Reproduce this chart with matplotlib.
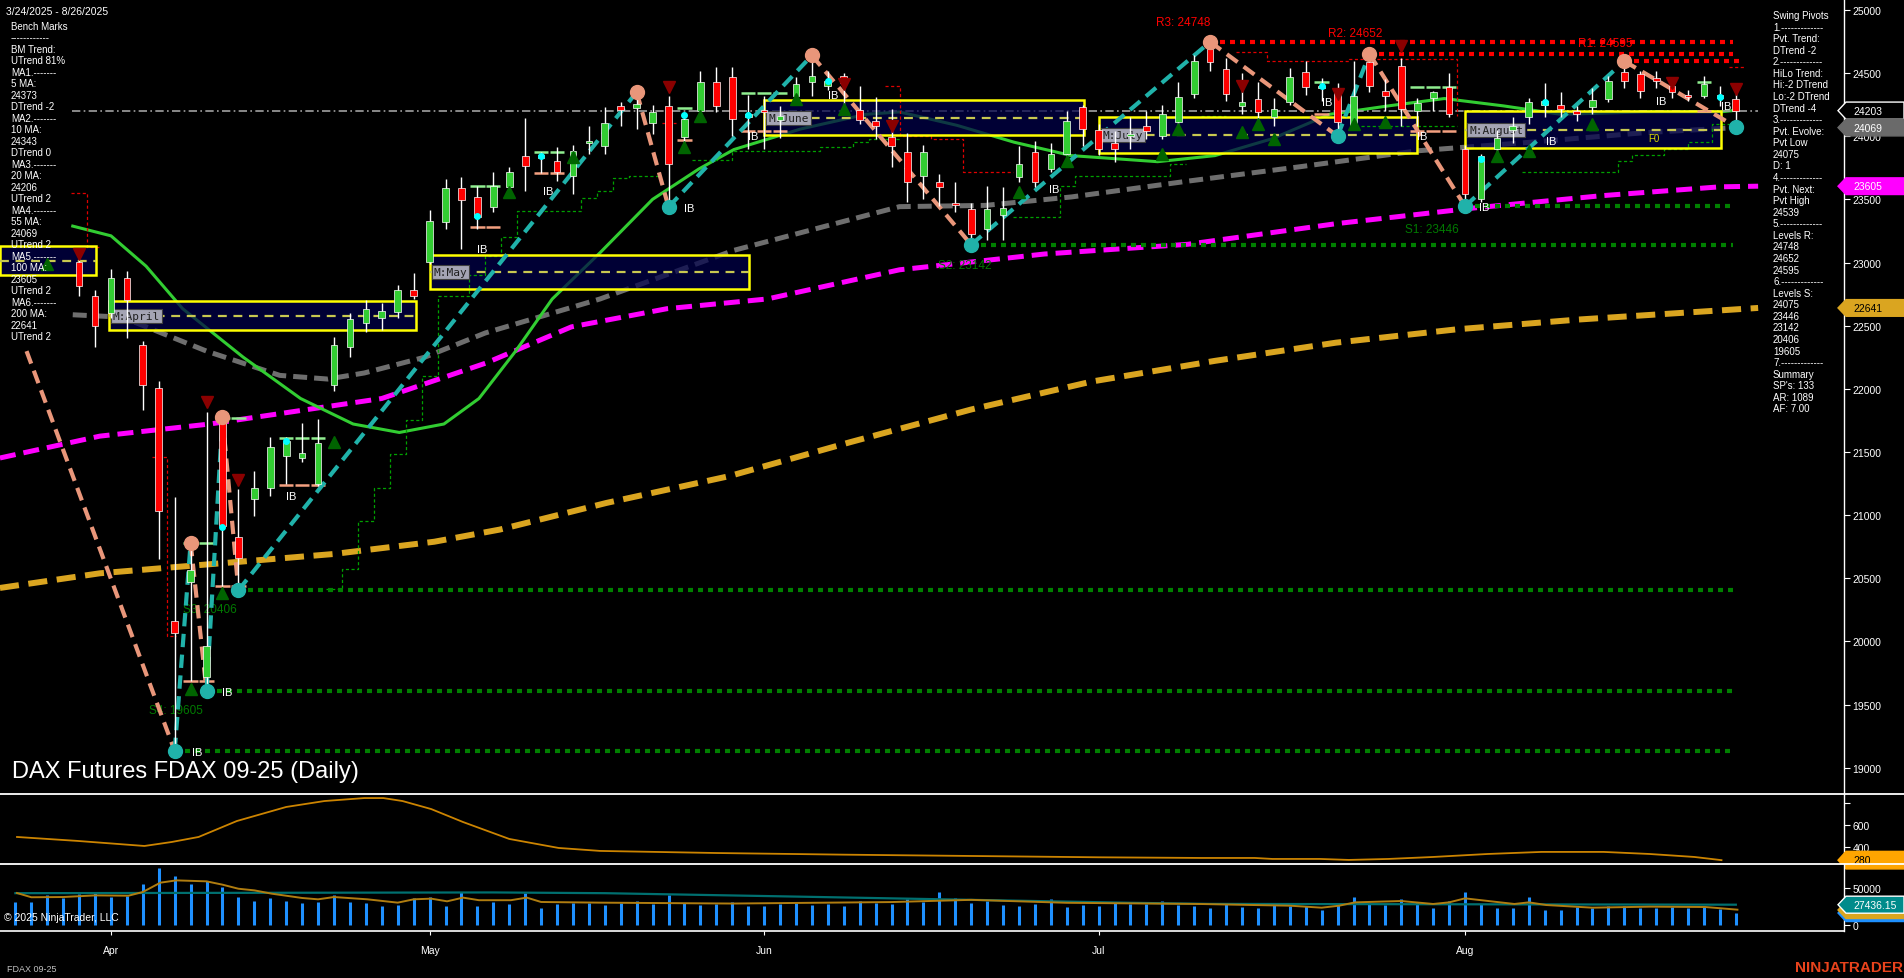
import numpy as np
import matplotlib
matplotlib.use("Agg")
import matplotlib.pyplot as plt
from matplotlib.patches import Rectangle, Polygon
import matplotlib.transforms as mtrans

plt.rcParams['font.family'] = ['Liberation Sans', 'DejaVu Sans']

# ------------------------------------------------------------------ data
bar_idx = list(range(4, 109))
opens = [23005, 22736, 22600, 22880, 22350, 22010, 20160, 20470, 19720, 21762, 20827, 21128, 21215, 21469, 21453,
         21247, 22030, 22330, 22520, 22560, 22610, 22783, 23005, 23321, 23590, 23519, 23440, 23598, 23844, 23850,
         23804, 23686, 23950, 23923, 24240, 24224, 24105, 24240, 23994, 24200, 24430, 24470, 24150, 24200, 24130,
         24319, 24430, 24400, 24480, 24210, 24120, 23994, 23876, 23686, 23638, 23470, 23424, 23266, 23380, 23678,
         23876, 23740, 23860, 24232, 24050, 23950, 24000, 24080, 24002, 24113, 24335, 24691, 24533, 24240, 24295,
         24150, 24272, 24509, 24380, 24351, 24081, 24588, 24360, 24557, 24200, 24300, 24390, 23900, 23504, 23900,
         24050, 24153, 24250, 24250, 24200, 24230, 24295, 24509, 24493, 24460, 24400, 24330, 24319, 24330, 24295]
highs = [23084, 22780, 22950, 22930, 22380, 22060, 21144, 20780, 21817, 21817, 21207, 21350, 21620, 21620, 21730,
         21762, 22410, 22600, 22700, 22680, 22820, 22918, 23417, 23662, 23678, 23606, 23717, 23760, 24145, 23876,
         23915, 23930, 24082, 24232, 24270, 24398, 24250, 24319, 24180, 24520, 24550, 24549, 24330, 24320, 24240,
         24470, 24652, 24520, 24500, 24398, 24311, 24216, 24030, 23930, 23700, 23638, 23470, 23606, 23600, 23923,
         23960, 23950, 24200, 24250, 24100, 24040, 24150, 24200, 24250, 24430, 24640, 24748, 24620, 24500, 24430,
         24300, 24540, 24600, 24460, 24420, 24600, 24652, 24450, 24620, 24300, 24360, 24500, 23930, 23860, 24050,
         24150, 24300, 24420, 24350, 24240, 24380, 24480, 24595, 24520, 24520, 24440, 24370, 24480, 24400, 24340]
lows = [22736, 22330, 22560, 22400, 21830, 20650, 19133, 19690, 19608, 20440, 20400, 20994, 21152, 21250, 21421,
        21231, 21980, 22250, 22450, 22470, 22560, 22712, 22990, 23266, 23108, 23266, 23400, 23540, 23567, 23710,
        23650, 23543, 23860, 23860, 24082, 24058, 24018, 23460, 23950, 24110, 24190, 24002, 23900, 23900, 23990,
        24250, 24320, 24370, 24216, 24097, 23979, 23757, 23480, 23504, 23448, 23400, 23142, 23180, 23180, 23640,
        23600, 23720, 23840, 23920, 23850, 23800, 23900, 23980, 23980, 24080, 24300, 24520, 24280, 24180, 24130,
        24080, 24250, 24330, 24280, 24002, 24050, 24350, 24200, 24080, 24080, 24200, 24150, 23446, 23480, 23800,
        23950, 24100, 24150, 24150, 24120, 24180, 24270, 24380, 24300, 24380, 24300, 24280, 24300, 24240, 24075]
closes = [22815, 22498, 22880, 22700, 22030, 21030, 20067, 20570, 19964, 20915, 20661, 21215, 21540, 21588, 21493,
          21572, 22347, 22550, 22630, 22620, 22780, 22736, 23329, 23590, 23496, 23361, 23606, 23717, 23765, 23830,
          23717, 23884, 23960, 24105, 24208, 24256, 24192, 23781, 24137, 24430, 24240, 24137, 24180, 24195, 24160,
          24414, 24477, 24440, 24420, 24130, 24080, 23923, 23638, 23876, 23598, 23460, 23226, 23424, 23430, 23781,
          23638, 23860, 24121, 24058, 23900, 23900, 24020, 24040, 24177, 24311, 24596, 24588, 24335, 24270, 24192,
          24220, 24470, 24390, 24400, 24113, 24319, 24398, 24320, 24216, 24260, 24350, 24177, 23543, 23844, 23990,
          24080, 24272, 24280, 24220, 24180, 24290, 24438, 24438, 24359, 24440, 24350, 24310, 24414, 24300, 24203]

month_tick_idx = [6, 26, 47, 68, 91]
month_labels = ['Apr', 'May', 'Jun', 'Jul', 'Aug']

# moving averages (bar index, price)
ma20_i = [3.6, 6.0, 8.2, 10.5, 14.3, 17.9, 21.2, 24.1, 26.9, 29.1, 31.4, 33.7, 36.7, 40.0, 42.9, 45.1, 49.3, 53.4,
          55.5, 59.1, 62.7, 66.3, 71.7, 75.3, 78.9, 82.5, 86.2, 89.7, 93.4, 97.0, 102.3, 107.0, 108.0]
ma20_p = [23289, 23212, 22972, 22635, 22251, 21924, 21722, 21655, 21722, 21924, 22299, 22712, 23078, 23501, 23741,
          23895, 24058, 24174, 24193, 24087, 23953, 23847, 23799, 23847, 23981, 24174, 24241, 24299, 24241, 24174,
          24193, 24193, 24206]
ma55_i = [3.6, 6.7, 12.0, 16.6, 19.6, 21.9, 25.7, 29.5, 36.7, 45.1, 55.5, 60.9, 66.3, 73.6, 80.7, 88.0, 95.1,
          102.3, 108.0]
ma55_p = [22587, 22568, 22299, 22107, 22078, 22126, 22251, 22443, 22712, 23097, 23443, 23453, 23520, 23645, 23760,
          23885, 23953, 24029, 24069]
ma100_i = [-0.97, 5.3, 12.2, 23.0, 29.5, 34.9, 40.9, 47.2, 55.5, 64.6, 73.6, 82.9, 91.6, 99.6, 107.0, 109.4]
ma100_p = [21453, 21626, 21722, 21924, 22203, 22491, 22635, 22712, 22943, 23068, 23145, 23308, 23433, 23530, 23600,
           23605]
ma200_i = [-0.97, 5.3, 20.0, 26.3, 30.4, 37.1, 44.8, 52.4, 60.0, 67.6, 75.3, 82.9, 90.5, 98.1, 109.4]
ma200_p = [20424, 20540, 20693, 20790, 20886, 21097, 21309, 21578, 21837, 22059, 22222, 22366, 22472, 22549, 22641]

# swing pivots (zigzag)
zz_start = (0.7, 22299)
pivot_i = [10, 11, 12, 13, 14, 39, 41, 50, 60, 75, 83, 85, 91, 101, 108]
pivot_p = [19133, 20780, 19608, 21777, 20406, 24350, 23440, 24640, 23142, 24748, 24002, 24652, 23446, 24595, 24075]
pivot_kind = ['L', 'H', 'L', 'H', 'L', 'H', 'L', 'H', 'L', 'H', 'L', 'H', 'L', 'H', 'L']

# support / resistance levels
sr_names = ['R3', 'R2', 'R1', 'S1', 'S2', 'S3', 'S4', '']
sr_values = [24748, 24652, 24595, 23446, 23142, 20406, 19605, 19133]
sr_start = [75, 85, 101, 91, 60, 14, 12, 10]
sr_end = [107.8, 107.8, 108.5, 107.8, 107.8, 107.8, 107.8, 107.8]

# monthly boxes
box_names = ['', 'M:April', 'M:May', 'M:June', 'M:July', 'M:August']
box_i0 = [-0.97, 5.87, 26.0, 47.0, 68.0, 91.0]
box_i1 = [5.06, 25.15, 46.05, 67.1, 88.0, 107.1]
box_top = [23131, 22696, 23060, 24287, 24153, 24200]
box_bot = [22902, 22466, 22791, 24010, 23868, 23907]

last_price = 24203

# trailing stop steps
red_stop_i = [3.5, 4.5, 5.3, np.nan, 8.6, 9.5, 10.1, np.nan, 40.6, 41.5, np.nan, 54.6, 55.5, 57.5, 59.5, 62.6,
              np.nan, 76.6, 78.6, 83.7, 90.5, np.nan, 107.6, 108.5]
red_stop_p = [23551, 23124, 23124, np.nan, 21461, 20044, 20044, np.nan, 24105, 24105, np.nan, 24398, 24002, 23979,
              23717, 23717, np.nan, 24667, 24596, 24612, 24160, np.nan, 24549, 24549]
grn_stop_i = [19.5, 20.5, 21.5, 22.5, 23.5, 24.5, 25.5, 26.5, 27.5, 28.5, 29.5, 30.5, 31.5, 35.5, 36.5, 37.5, 38.5,
              40.5, np.nan, 42.5, 45.0, 49.6, 50.5, 52.6, 53.6, 55.5, np.nan, 62.6, 65.6, 66.5, 72.5, 73.5, np.nan,
              74.4, 76.0, np.nan, 84.5, 90.5, np.nan, 94.6, 100.6, 101.5, 103.5, 105.0, 106.5, 108.5]
grn_stop_p = [20416, 20574, 20954, 21215, 21485, 21754, 22100, 22736, 22736, 22900, 23050, 23200, 23409, 23512,
              23567, 23670, 23686, 23686, np.nan, 23812, 23884, 23884, 23915, 23955, 23979, 23979, np.nan, 23361,
              23606, 23686, 23781, 23781, np.nan, 24161, 24161, np.nan, 24082, 24082, np.nan, 23717, 23804, 23850,
              23900, 23955, 24097, 24097]

# inside-bar range dashes (bar, upper level, lower level)
ibr_bar = [11, 12, 13, 14, 17, 18, 19, 29, 30, 33, 34, 42, 46, 47, 48, 82, 88, 89, 90, 106]
ibr_hi = [20780, 20780, 21770, 21770, 21611, 21611, 21611, 23606, 23606, 23876, 23876, 24224, 24343, 24343, 24343,
          24430, 24390, 24390, 24390, 24430]
ibr_lo = [19687, 19687, 20440, 20440, 21239, 21239, 21239, 23282, 23282, 23710, 23710, 23971, 24042, 24042, 24042,
          24180, 24042, 24042, 24042, 24200]

# signal markers
tri_dn_i = [4, 12, 14, 41, 52, 55, 77, 83, 87, 104, 108]
tri_dn_p = [23068, 21896, 21279, 24390, 24414, 24082, 24398, 24335, 24715, 24420, 24374]
tri_up_i = [2, 11, 13, 20, 31, 35, 42, 43, 49, 52, 63, 66, 72, 73, 77, 78, 79, 84, 86, 93, 95, 99]
tri_up_p = [22989, 19624, 20384, 21580, 23559, 23836, 23915, 24161, 24295, 24216, 23559, 23804, 23860, 24058, 24034,
            24097, 23979, 24097, 24113, 23844, 23884, 24097]
ib_i = [11.1, 13.0, 17.0, 29.0, 33.1, 42.0, 46.0, 51.0, 64.9, 82.0, 88.0, 91.9, 96.1, 103.0, 107.1]
ib_p = [19125, 19600, 21152, 23108, 23567, 23432, 24002, 24327, 23583, 24272, 24002, 23440, 23963, 24280, 24240]
dot_i = [13, 17, 29, 33, 42, 46, 51, 82, 92, 96, 107]
dot_p = [20907, 21588, 23369, 23844, 24169, 24169, 24438, 24398, 23820, 24272, 24311]

# lower panels
osc_i = [0.1, 3.9, 8.1, 9.8, 11.5, 13.9, 17.0, 19.4, 21.9, 23.1, 24.3, 26.1, 28.1, 31.0, 34.1, 36.7, 44, 52, 60, 68,
         74.4, 77.8, 78.9, 81.9, 83.7, 86.2, 89.0, 92.4, 95.8, 99.7, 102.6, 105.4, 107.1]
osc_v = [491, 455, 409, 445, 491, 636, 764, 818, 845, 845, 818, 745, 627, 473, 391, 364, 345, 330, 318, 306, 300,
         300, 291, 291, 282, 291, 309, 336, 355, 355, 336, 309, 280]
volume = [31.5, 31.5, 40.5, 36.9, 41.9, 44.6, 38.3, 39.6, 55.4, 77.0, 66.6, 55.4, 59.9, 51.8, 38.3, 32.9, 36.9, 32.9,
          29.7, 31.5, 40.5, 31.5, 29.7, 26.1, 27.0, 36.5, 37.9, 25.7, 44.9, 25.7, 31.5, 28.4, 43.2, 23.0, 28.4, 29.7,
          29.7, 27, 30, 33, 28, 40, 30, 27, 29, 31, 26, 25, 28, 30, 27, 29, 26, 33, 30, 28, 35, 31, 45, 36, 30, 32,
          27, 25, 28, 35, 24, 27, 26, 30, 28, 29, 32, 27, 26, 22.5, 28.4, 24.8, 23.0, 27.0, 25.2, 25.2, 20.3, 27.0,
          37.8, 29.3, 27.0, 35.1, 30.6, 23.4, 32.4, 44.6, 28.4, 23.4, 23.4, 37.8, 20.7, 20.3, 24.3, 22.5, 25.2, 26.1,
          23.4, 23.4, 24.3, 22.5, 24.3, 21.6, 16.2]
vol_slow_i = [0, 30, 37, 50, 60, 70, 75, 108]
vol_slow_v = [43.0, 44.0, 43.0, 38.0, 34.0, 30.0, 28.5, 27.44]
vol_fast_i = [0.1, 1.0, 3.0, 5.0, 7.1, 8.0, 9.1, 10.1, 12.0, 13.0, 14.0, 15.0, 16.1, 18.0, 19.0, 20.0, 22.1, 24.0,
              25.0, 26.1, 27.1, 28.1, 29.1, 31.1, 32.1, 33.0, 36.7, 45, 55, 60, 66, 74.4, 77.7, 80.0, 82.0, 83.1,
              84.1, 87.0, 89.0, 90.0, 91.0, 94.1, 95.0, 96.1, 99.0, 102.6, 106.1, 108.1]
vol_fast_v = [43.2, 37.5, 37.8, 40.0, 39.6, 44.6, 57.2, 60.3, 59.0, 54.5, 49.0, 46.8, 42.3, 36.5, 34.7, 37.8, 34.7,
              30.2, 34.7, 35.6, 32.0, 37.0, 33.5, 33.5, 37.0, 31.1, 30.2, 29.0, 31.0, 34.0, 30.0, 28.4, 27.0, 26.1,
              23.4, 26.1, 30.6, 32.4, 28.4, 30.6, 36.0, 28.4, 30.6, 27.0, 23.4, 24.8, 24.3, 20.7]

left_panel = ["Bench Marks", "------------", "BM Trend:", "UTrend 81%", "MA1.-------", "5 MA:", "24373", "DTrend -2",
              "MA2.-------", "10 MA:", "24343", "DTrend 0", "MA3.-------", "20 MA:", "24206", "UTrend 2",
              "MA4.-------", "55 MA:", "24069", "UTrend 2", "MA5.-------", "100 MA:", "23605", "UTrend 2",
              "MA6.-------", "200 MA:", "22641", "UTrend 2"]
right_panel = ["Swing Pivots", "1.-------------", "Pvt. Trend:", "DTrend -2", "2.-------------", "HiLo Trend:",
               "Hi:-2 DTrend", "Lo:-2 DTrend", "DTrend -4", "3.-------------", "Pvt. Evolve:", "Pvt Low", "24075",
               "D: 1", "4.-------------", "Pvt. Next:", "Pvt High", "24539", "5.-------------", "Levels R:",
               "24748", "24652", "24595", "6.-------------", "Levels S:", "24075", "23446", "23142", "20406",
               "19605", "7.-------------", "Summary", "SP's: 133", "AR: 1089", "AF: 7.00"]

# ------------------------------------------------------------------ layout
W, H = 1904, 979
fig = plt.figure(figsize=(W / 100, H / 100), dpi=100, facecolor='black')


def frac(x0, y0, x1, y1):
    return [x0 / W, 1 - y1 / H, (x1 - x0) / W, (y1 - y0) / H]


ax = fig.add_axes(frac(0, 0, 1844, 795))
axi = fig.add_axes(frac(0, 795, 1844, 865), sharex=ax)
axv = fig.add_axes(frac(0, 865, 1844, 932), sharex=ax)
ov = fig.add_axes([0, 0, 1, 1])
ov.set_xlim(0, W)
ov.set_ylim(H, 0)
ov.axis('off')
ov.patch.set_alpha(0)

XL = (-0.967, 114.79)
for a in (ax, axi, axv):
    a.set_facecolor('black')
    for s in a.spines.values():
        s.set_visible(False)
    a.spines['right'].set_visible(True)
    a.spines['right'].set_color('white')
    a.spines['right'].set_linewidth(1.0)
    a.yaxis.tick_right()
    a.tick_params(axis='y', colors='white', length=4, width=0.8, pad=2, labelsize=7.5)
    a.tick_params(axis='x', bottom=False, labelbottom=False)
ax.set_xlim(*XL)
ax.set_ylim(18792.5, 25087.1)
axi.set_ylim(245, 882)
axv.set_ylim(-8108, 82430)

ax.set_yticks(range(19000, 25001, 500))
axi.set_yticks([400, 600, 800])
axi.set_yticklabels(['400', '600', ''])
axv.set_yticks([0, 50000])
axv.set_yticklabels(['0', '50000'])
axv.spines['bottom'].set_visible(True)
axv.spines['bottom'].set_color('white')
axv.spines['bottom'].set_linewidth(1.2)
axv.set_xticks(month_tick_idx)
axv.set_xticklabels(month_labels)
axv.tick_params(axis='x', bottom=True, labelbottom=True, colors='white', length=3, width=0.8, pad=7,
                labelsize=7.5)

# ------------------------------------------------------------------ main panel
bi = np.array(bar_idx, dtype=float)
o = np.array(opens, dtype=float)
h = np.array(highs, dtype=float)
l = np.array(lows, dtype=float)
c = np.array(closes, dtype=float)

# monthly boxes (under candles)
for nm, x0, x1, tp, bt in zip(box_names, box_i0, box_i1, box_top, box_bot):
    ax.add_patch(Rectangle((x0, bt), x1 - x0, tp - bt, facecolor='#00004a', alpha=0.72, edgecolor='none',
                           zorder=3))
    ax.add_patch(Rectangle((x0, bt), x1 - x0, tp - bt, facecolor='none', edgecolor='#ffff00', lw=1.8, zorder=7))
    ax.plot([x0, x1], [(tp + bt) / 2] * 2, color='#c8c850', lw=1.6, dashes=(4, 3), zorder=7)
    if nm:
        ax.text(x0 + 0.25, (tp + bt) / 2, nm, fontsize=8, family='DejaVu Sans Mono', color='#202020',
                va='center', ha='left', zorder=9,
                bbox=dict(boxstyle='square,pad=0.18', fc='#a4a4b4', ec='#404040', lw=0.8))
ax.text(102.5, 23985, 'F0', color='#d8d800', fontsize=7, zorder=9, va='center')

# moving averages
ax.plot(ma200_i, ma200_p, color='#daa520', lw=4.3, dashes=(3.2, 1.6), zorder=2)
ax.plot(ma100_i, ma100_p, color='#ff00ff', lw=3.6, dashes=(3.2, 1.6), zorder=2)
ax.plot(ma55_i, ma55_p, color='#6e6e6e', lw=3.6, dashes=(2.8, 1.4), zorder=2)
ax.plot(ma20_i, ma20_p, color='#32cd32', lw=2.2, zorder=2)

# last price line
ax.plot([3.55, 109.4], [last_price, last_price], color='#a0a0a0', lw=1.2, dashes=(5, 2, 1, 2), zorder=2)

# trailing stops
ax.plot(red_stop_i, red_stop_p, color='#e00000', lw=0.9, dashes=(2.5, 2), drawstyle='steps-post', zorder=4)
ax.plot(grn_stop_i, grn_stop_p, color='#00a000', lw=0.9, dashes=(2.5, 2), drawstyle='steps-post', zorder=4)

# inside-bar range dashes
for b, hi_, lo_ in zip(ibr_bar, ibr_hi, ibr_lo):
    ax.plot([b - 0.45, b + 0.45], [hi_, hi_], color='#90ee90', lw=1.8, zorder=8, solid_capstyle='butt')
    ax.plot([b - 0.45, b + 0.45], [lo_, lo_], color='#f4a080', lw=1.8, zorder=8, solid_capstyle='butt')

# support / resistance dotted levels
for nm, v, s0, s1 in zip(sr_names, sr_values, sr_start, sr_end):
    col = '#ff0000' if nm.startswith('R') else '#008000'
    ax.plot([s0, s1], [v, v], color=col, lw=3.0, dashes=(1.2, 1.2), zorder=4)
lab_dx = {'R3': -1.7, 'R2': -0.9, 'R1': -1.2, 'S1': -2.1, 'S2': -0.4, 'S3': -1.8, 'S4': -1.9}
lab_dy = {'R3': 158, 'R2': 166, 'R1': 145, 'S1': -182, 'S2': -158, 'S3': -150, 'S4': -150}
for nm, v, s0 in zip(sr_names, sr_values, sr_start):
    if not nm:
        continue
    col = '#ff0000' if nm.startswith('R') else '#007a00'
    ax.text(s0 + lab_dx[nm], v + lab_dy[nm], f'{nm}: {v}', color=col, fontsize=8.5, ha='center', va='center',
            zorder=4)

# zigzag
zx = [zz_start[0]] + pivot_i
zy = [zz_start[1]] + pivot_p
for k in range(len(zx) - 1):
    up = zy[k + 1] > zy[k]
    ax.plot([zx[k], zx[k + 1]], [zy[k], zy[k + 1]], color='#20b2aa' if up else '#e9967a', lw=3.0,
            dashes=(3.2, 1.8), zorder=8, solid_capstyle='butt')

# candles
up = c >= o
body_lo = np.minimum(o, c)
body_h = np.maximum(np.abs(c - o), 10)
ax.vlines(bi, l, h, color='white', lw=1.0, zorder=9)
ax.bar(bi, body_h, bottom=body_lo, width=0.42, color=np.where(up, '#32cd32', '#ff0000'), edgecolor='white',
       lw=0.5, zorder=10)

# pivots
for pi, pp, kd in zip(pivot_i, pivot_p, pivot_kind):
    ax.plot(pi, pp, 'o', ms=10, color='#e9967a' if kd == 'H' else '#20b2aa', zorder=11)

# markers
ax.plot(tri_dn_i, tri_dn_p, 'v', ms=9, color='#8b0000', zorder=11, ls='none')
ax.plot(tri_up_i, tri_up_p, '^', ms=9, color='#006400', zorder=11, ls='none')
ax.plot(dot_i, dot_p, 'o', ms=4, color='#00ffff', zorder=12, ls='none')
for xi, yp in zip(ib_i, ib_p):
    ax.text(xi, yp, 'IB', color='white', fontsize=8, ha='left', va='center', zorder=12)

# ------------------------------------------------------------------ lower panels
axi.plot(osc_i, osc_v, color='#cc8400', lw=1.3)
vol_idx = np.arange(len(volume))
axv.vlines(vol_idx, 0, np.array(volume) * 1000, color='#1e90ff', lw=2.2)
axv.plot(vol_slow_i, np.array(vol_slow_v) * 1000, color='#007070', lw=1.6)
axv.plot(vol_fast_i, np.array(vol_fast_v) * 1000, color='#b07d10', lw=1.4)

# ------------------------------------------------------------------ price tags on the axis


def tag(axis, value, half, fc, tc, txt, ec=None):
    tr = mtrans.blended_transform_factory(fig.transFigure, axis.transData)
    x0, x1, x2 = 1838 / W, 1846 / W, 1904 / W
    poly = Polygon([(x0, value), (x1, value + half), (x2, value + half), (x2, value - half), (x1, value - half)],
                   closed=True, transform=tr, facecolor=fc, edgecolor=ec if ec else fc, lw=1.0, clip_on=False,
                   zorder=20)
    axis.add_patch(poly)
    axis.text(1853 / W, value, txt, transform=tr, color=tc, fontsize=7.5, va='center', ha='left', zorder=21,
              clip_on=False)


tag(ax, 24203, 68, 'black', 'white', '24203', ec='white')
tag(ax, 24069, 66, '#6a6a6a', 'white', '24069')
tag(ax, 23605, 66, '#ff00ff', 'white', '23605')
tag(ax, 22641, 66, '#daa520', 'black', '22641')
tag(axi, 280, 80, '#ffa500', 'black', '280')
tag(axv, 16200, 11500, '#1e90ff', 'white', '')
tag(axv, 20300, 11500, '#daa520', 'black', '')
tag(axv, 27436.15, 11500, '#008b8b', 'white', '27436.15', ec='white')

# ------------------------------------------------------------------ overlay texts & separators
ov.plot([0, W], [795, 795], color='white', lw=1.3)
ov.plot([0, W], [865, 865], color='white', lw=1.3)

ov.text(6, 12, '3/24/2025 - 8/26/2025', color='white', fontsize=7.5, va='center', ha='left')
for k, s in enumerate(left_panel):
    ov.text(11, 26.7 + 11.5 * k, s, color='white', fontsize=7, va='center', ha='left')
for k, s in enumerate(right_panel):
    ov.text(1773, 16 + 11.57 * k, s, color='white', fontsize=7, va='center', ha='left')

ov.text(12, 772, 'DAX Futures FDAX 09-25 (Daily)', color='white', fontsize=17, va='center', ha='left')
ov.text(4, 918, '\u00a9 2025 NinjaTrader, LLC', color='white', fontsize=7.5, va='center', ha='left')
ov.text(7, 970, 'FDAX 09-25', color='#c0c0c0', fontsize=6.5, va='center', ha='left')
ov.text(1903, 968, 'NINJATRADER', color='#e8431c', fontsize=11, fontweight='bold', va='center', ha='right')

fig.savefig('out.png', dpi=100, facecolor='black')
